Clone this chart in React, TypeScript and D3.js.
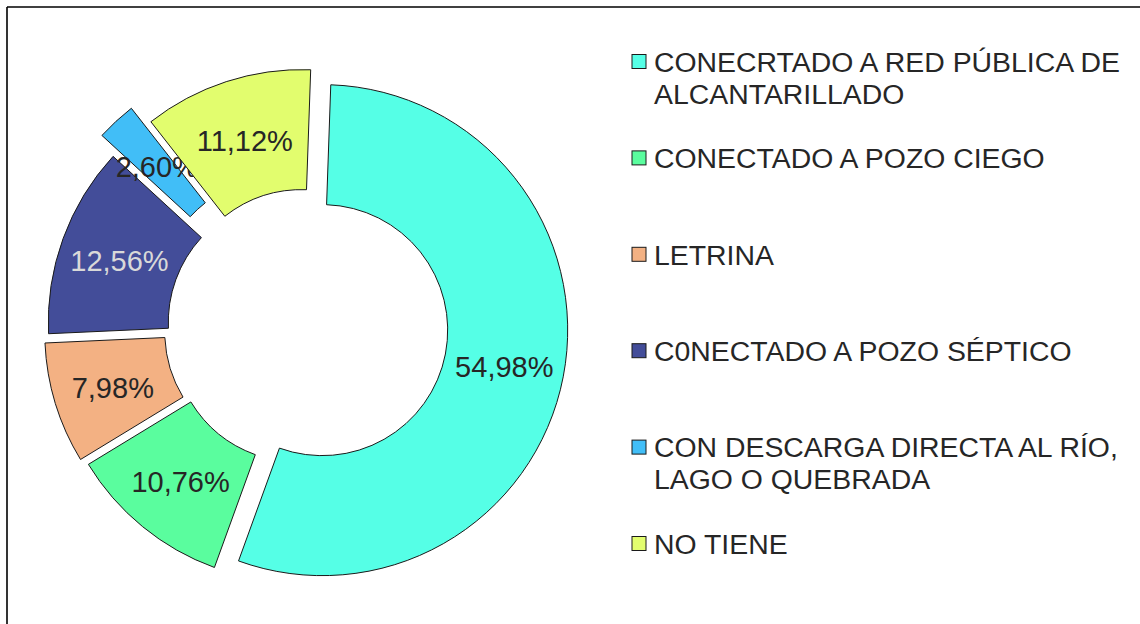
import React from "react";
import * as d3 from "d3";

const categories: string[][] = [
  ["CONECRTADO A RED PÚBLICA DE", "ALCANTARILLADO"],
  ["CONECTADO A POZO CIEGO"],
  ["LETRINA"],
  ["C0NECTADO A POZO SÉPTICO"],
  ["CON DESCARGA DIRECTA AL RÍO,", "LAGO O QUEBRADA"],
  ["NO TIENE"],
];
const values: number[] = [54.98, 10.76, 7.98, 12.56, 2.6, 11.12];
const labels: string[] = ["54,98%", "10,76%", "7,98%", "12,56%", "2,60%", "11,12%"];

// styles
const colors = ["#55FFE6", "#5AFD9E", "#F3B183", "#434D99", "#41BEF7", "#E2FD6E"];
const labelColors = ["#262626", "#262626", "#262626", "#D9D9D9", "#262626", "#262626"];
const explode = [16.5, 12.5, 16.5, 13, 34.5, 12.5];

const W = 1140;
const H = 624;
const CX = 306;
const CY = 327;
const R_OUT = 245.5;
const R_IN = 125.5;
const FONT = "'Liberation Sans', Arial, Helvetica, sans-serif";

export default function App() {
  const start = (2 * Math.PI) / 180;
  const pie = d3
    .pie<number>()
    .sort(null)
    .value((d) => d)
    .startAngle(start)
    .endAngle(start + 2 * Math.PI);
  const arcs = pie(values);
  const arc = d3.arc<d3.PieArcDatum<number>>().innerRadius(R_IN).outerRadius(R_OUT);

  const legendX = 632;
  const legendY0 = 61.5;
  const legendStep = 96.4;
  const lineH = 32;

  return (
    <svg
      width={W}
      height={H}
      style={{ position: "absolute", left: 0, top: 0, background: "#fff" }}
    >
      <rect x={0} y={0} width={W} height={H} fill="#fff" />
      <line x1={7} y1={7} x2={W} y2={7} stroke="#000" strokeWidth={1.6} />
      <line x1={7} y1={7} x2={7} y2={H} stroke="#000" strokeWidth={1.6} />
      <g transform={`translate(${CX},${CY})`}>
        {arcs.map((a, i) => {
          const mid = (a.startAngle + a.endAngle) / 2;
          const dx = Math.sin(mid) * explode[i];
          const dy = -Math.cos(mid) * explode[i];
          const [lx, ly] = arc.centroid(a);
          return (
            <g key={i} transform={`translate(${dx},${dy})`}>
              <path d={arc(a) || ""} fill={colors[i]} stroke="#1a1a1a" strokeWidth={1} />
              <text
                x={lx}
                y={ly + 1.5}
                dy="0.36em"
                textAnchor="middle"
                fontFamily={FONT}
                fontSize={29}
                fill={labelColors[i]}
              >
                {labels[i]}
              </text>
            </g>
          );
        })}
      </g>
      <g>
        {categories.map((lines, i) => {
          const y = legendY0 + i * legendStep;
          return (
            <g key={i}>
              <rect
                x={legendX}
                y={y - 7}
                width={14}
                height={14}
                fill={colors[i]}
                stroke="#1a1a1a"
                strokeWidth={1}
              />
              <text fontFamily={FONT} fontSize={28.4} fill="#262626">
                {lines.map((l, j) => (
                  <tspan key={j} x={legendX + 22} y={y + j * lineH} dy="0.36em">
                    {l}
                  </tspan>
                ))}
              </text>
            </g>
          );
        })}
      </g>
    </svg>
  );
}
